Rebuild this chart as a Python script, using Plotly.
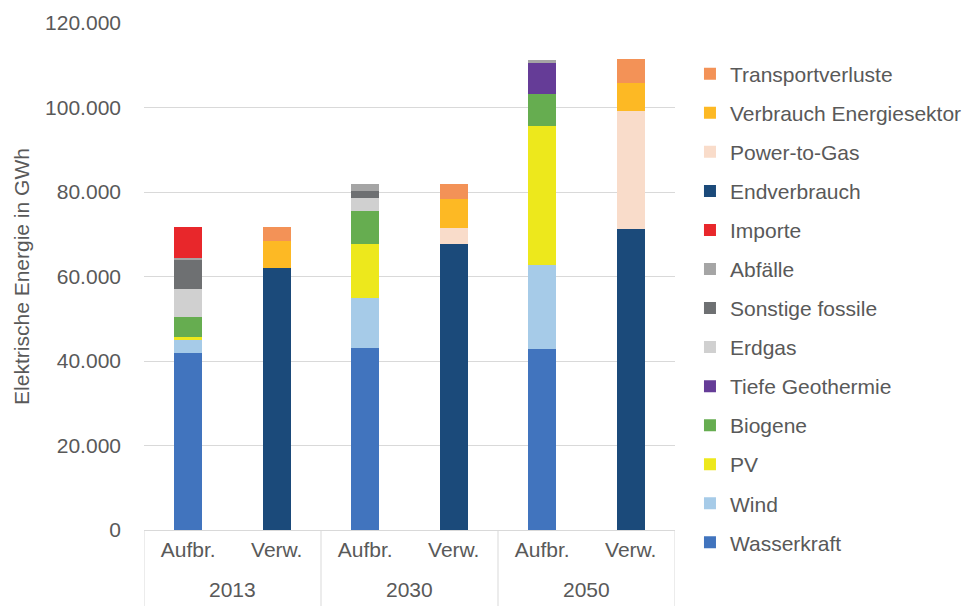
import plotly.graph_objects as go

CATEGORIES = ["2013 Aufbr.", "2013 Verw.", "2030 Aufbr.", "2030 Verw.", "2050 Aufbr.", "2050 Verw."]
TICK_LABELS = ["Aufbr.", "Verw.", "Aufbr.", "Verw.", "Aufbr.", "Verw."]
YEARS = ["2013", "2030", "2050"]

# values in GWh, stacking order bottom -> top
wasserkraft = [42000, None, 43000, None, 42800, None]
wind = [3000, None, 11800, None, 19850, None]
pv = [700, None, 13000, None, 33000, None]
biogene = [4700, None, 7750, None, 7500, None]
geothermie = [None, None, None, None, 7500, None]
erdgas = [6600, None, 3100, None, None, None]
sonstige_fossile = [6900, None, 1650, None, None, None]
abfaelle = [550, None, 1600, None, 650, None]
importe = [7350, None, None, None, None, None]
endverbrauch = [None, 62100, None, 67800, None, 71300]
power_to_gas = [None, None, None, 3700, None, 27850]
verbrauch_energiesektor = [None, 6300, None, 6800, None, 6700]
transportverluste = [None, 3300, None, 3550, None, 5550]

SERIES = [
    ("Wasserkraft", wasserkraft, "#4174BE"),
    ("Wind", wind, "#A6CBE8"),
    ("PV", pv, "#EDE81C"),
    ("Biogene", biogene, "#66AD50"),
    ("Tiefe Geothermie", geothermie, "#653C97"),
    ("Erdgas", erdgas, "#D0D0D0"),
    ("Sonstige fossile", sonstige_fossile, "#6E7072"),
    ("Abfälle", abfaelle, "#A5A5A5"),
    ("Importe", importe, "#E8272B"),
    ("Endverbrauch", endverbrauch, "#1B4A7A"),
    ("Power-to-Gas", power_to_gas, "#F9DCCA"),
    ("Verbrauch Energiesektor", verbrauch_energiesektor, "#FDB924"),
    ("Transportverluste", transportverluste, "#F39257"),
]

TEXT = "#595959"
GRID = "#D9D9D9"
FONT = "Liberation Sans, Arial, sans-serif"
FS = 21

fig = go.Figure()
for i, (name, vals, color) in enumerate(SERIES):
    fig.add_trace(go.Bar(
        x=CATEGORIES, y=vals, name=name,
        marker=dict(color=color, line=dict(width=0)),
        legendgroup=name, legendrank=len(SERIES) - i,
    ))

# year labels under each pair of bars
for k, year in enumerate(YEARS):
    fig.add_annotation(
        x=2 * k + 0.5, xref="x", y=-0.118, yref="paper",
        text=year, showarrow=False, yanchor="middle",
        font=dict(size=FS, color=TEXT),
    )

# box lines of the category axis
for xv in [-0.5, 1.5, 3.5, 5.5]:
    fig.add_shape(
        type="line", xref="x", yref="paper",
        x0=xv, x1=xv, y0=0, y1=-0.2,
        line=dict(color=GRID, width=1),
    )

fig.update_layout(
    barmode="stack",
    bargap=0.684,
    separators=",.",
    width=973, height=606,
    plot_bgcolor="white", paper_bgcolor="white",
    font=dict(family=FONT, color=TEXT, size=FS),
    margin=dict(l=136, r=306, t=15, b=84),
    legend=dict(
        traceorder="grouped",
        tracegroupgap=8.75,
        x=1.0282, xanchor="left",
        y=0.9396, yanchor="top",
        font=dict(size=FS, color=TEXT),
        itemwidth=30,
        maxheight=600,
        bgcolor="rgba(0,0,0,0)",
    ),
)
fig.update_yaxes(
    range=[0, 120000], dtick=20000, tickformat=",d",
    gridcolor=GRID, gridwidth=1, zeroline=False, showline=False,
    ticks="", ticklabelstandoff=22, automargin=False,
    tickfont=dict(size=FS, color=TEXT),
    title=dict(text="Elektrische Energie in GWh", font=dict(size=FS, color=TEXT), standoff=9),
)
fig.update_xaxes(
    type="category", range=[-0.5, 5.5],
    tickvals=CATEGORIES, ticktext=TICK_LABELS,
    showline=True, linecolor=GRID, linewidth=1,
    ticks="", ticklabelstandoff=1, automargin=False,
    tickfont=dict(size=FS, color=TEXT),
)

fig.write_html("out.html")
